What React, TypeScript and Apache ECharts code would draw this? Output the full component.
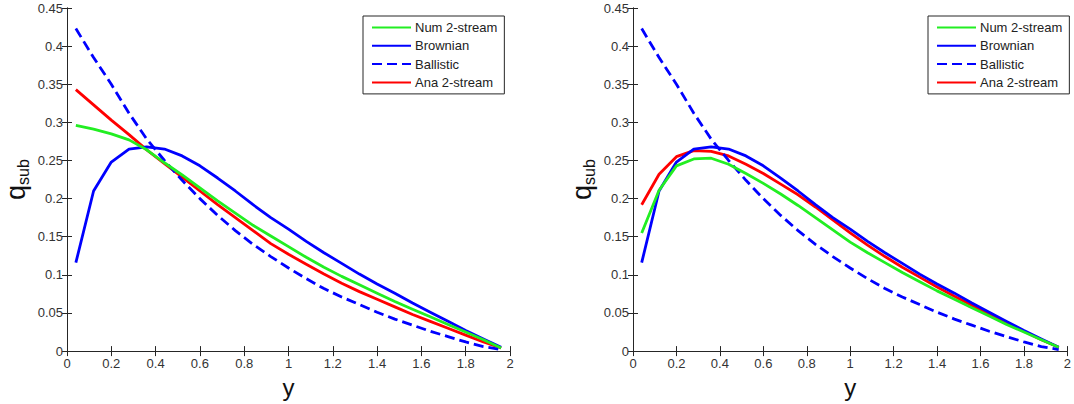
import React, { useEffect, useRef } from "react";
import * as echarts from "echarts";

// Sample positions along y
const xs = [0.04, 0.12, 0.2, 0.28, 0.36, 0.44, 0.52, 0.6, 0.68, 0.76, 0.84, 0.92, 1.0, 1.08, 1.16, 1.24, 1.32, 1.4, 1.48, 1.56, 1.64, 1.72, 1.8, 1.88, 1.96];

// Shared curves (same in both panels)
const brownian = [0.116, 0.21, 0.248, 0.265, 0.268, 0.265, 0.256, 0.243, 0.227, 0.21, 0.192, 0.175, 0.16, 0.144, 0.129, 0.115, 0.101, 0.088, 0.076, 0.063, 0.051, 0.039, 0.027, 0.016, 0.005];
const ballistic = [0.423, 0.385, 0.35, 0.312, 0.278, 0.25, 0.224, 0.2, 0.178, 0.158, 0.14, 0.124, 0.109, 0.095, 0.082, 0.071, 0.061, 0.051, 0.042, 0.034, 0.026, 0.019, 0.012, 0.006, 0.002];

// Left panel
const numLeft = [0.296, 0.291, 0.285, 0.277, 0.264, 0.247, 0.231, 0.214, 0.197, 0.181, 0.165, 0.151, 0.137, 0.123, 0.11, 0.098, 0.087, 0.076, 0.065, 0.055, 0.045, 0.035, 0.025, 0.015, 0.004];
const anaLeft = [0.343, 0.323, 0.303, 0.284, 0.264, 0.246, 0.228, 0.21, 0.192, 0.175, 0.158, 0.141, 0.127, 0.114, 0.101, 0.089, 0.078, 0.068, 0.058, 0.048, 0.039, 0.03, 0.021, 0.012, 0.004];

// Right panel
const numRight = [0.155, 0.211, 0.243, 0.252, 0.253, 0.245, 0.233, 0.22, 0.206, 0.191, 0.175, 0.159, 0.143, 0.129, 0.116, 0.103, 0.091, 0.079, 0.068, 0.057, 0.046, 0.035, 0.025, 0.015, 0.005];
const anaRight = [0.192, 0.232, 0.255, 0.263, 0.262, 0.256, 0.245, 0.233, 0.219, 0.205, 0.189, 0.172, 0.155, 0.139, 0.124, 0.11, 0.097, 0.084, 0.072, 0.06, 0.048, 0.037, 0.026, 0.015, 0.005];

const seriesNames = ["Num 2-stream", "Brownian", "Ballistic", "Ana 2-stream"];
const xLabel = "y";

const FONT = "Liberation Sans, Arial, Helvetica, sans-serif";
const AX = "#262626";
const GREEN = "#22ee22";
const BLUE = "#0000ff";
const RED = "#ff0000";

const pairs = (vals: number[]) => xs.map((x, i) => [x, vals[i]]);

export default function App() {
  const ref = useRef<HTMLDivElement>(null);
  useEffect(() => {
    const chart = echarts.init(ref.current!, undefined, { renderer: "svg" });
    const grids = [
      { left: 67, top: 8, width: 443, height: 346 },
      { left: 633, top: 8, width: 443, height: 346 },
    ];
    const xAxes: any[] = [];
    const yAxes: any[] = [];
    grids.forEach((_, g) => {
      xAxes.push({
        type: "value", gridIndex: g, min: 0, max: 2, interval: 0.2, position: "bottom",
        name: xLabel, nameLocation: "middle", nameGap: 17,
        nameTextStyle: { fontFamily: FONT, fontSize: 24, color: "#111" },
        axisLine: { show: true, lineStyle: { color: AX, width: 1 } },
        axisTick: { show: true, inside: true, length: 5, lineStyle: { color: AX } },
        axisLabel: { fontFamily: FONT, fontSize: 13, color: "#333", margin: 6 },
        splitLine: { show: false },
      });
      xAxes.push({
        type: "value", gridIndex: g, min: 0, max: 2, interval: 0.2, position: "top",
        axisLine: { show: true, lineStyle: { color: AX, width: 1 } },
        axisTick: { show: true, inside: true, length: 5, lineStyle: { color: AX } },
        axisLabel: { show: false },
        splitLine: { show: false },
      });
      yAxes.push({
        type: "value", gridIndex: g, min: 0, max: 0.45, interval: 0.05, position: "left",
        name: "{q|q}{s|sub}", nameLocation: "middle", nameGap: 36, nameRotate: 90,
        nameTextStyle: {
          fontFamily: FONT, color: "#111",
          rich: {
            q: { fontFamily: FONT, fontSize: 27, color: "#111", lineHeight: 30 },
            s: { fontFamily: FONT, fontSize: 16, color: "#111", verticalAlign: "bottom", lineHeight: 30, padding: [12, 0, 0, 0] },
          },
        },
        axisLine: { show: true, lineStyle: { color: AX, width: 1 } },
        axisTick: { show: true, inside: true, length: 5, lineStyle: { color: AX } },
        axisLabel: { fontFamily: FONT, fontSize: 13, color: "#333", margin: 4 },
        splitLine: { show: false },
      });
      yAxes.push({
        type: "value", gridIndex: g, min: 0, max: 0.45, interval: 0.05, position: "right",
        axisLine: { show: true, lineStyle: { color: AX, width: 1 } },
        axisTick: { show: true, inside: true, length: 5, lineStyle: { color: AX } },
        axisLabel: { show: false },
        splitLine: { show: false },
      });
    });

    const panelData = [
      [numLeft, brownian, ballistic, anaLeft],
      [numRight, brownian, ballistic, anaRight],
    ];
    const colors = [GREEN, BLUE, BLUE, RED];
    const series: any[] = [];
    panelData.forEach((arrs, g) => {
      arrs.forEach((vals, k) => {
        series.push({
          type: "line",
          name: seriesNames[k],
          xAxisIndex: g * 2,
          yAxisIndex: g * 2,
          data: pairs(vals),
          symbol: "none",
          smooth: false,
          z: 10 - k,
          lineStyle: { color: colors[k], width: 2.8, type: k === 2 ? [10, 5] : "solid" },
          itemStyle: { color: colors[k] },
        });
      });
    });

    const legendBase = {
      orient: "vertical",
      top: 16,
      data: seriesNames,
      itemWidth: 39,
      itemHeight: 14,
      itemGap: 5.3,
      padding: [5, 7, 5, 8],
      borderColor: "#262626",
      borderWidth: 1,
      backgroundColor: "#fff",
      itemStyle: { opacity: 0 },
      textStyle: { fontFamily: FONT, fontSize: 13, color: "#222", padding: [0, 0, 0, -1] },
      selectedMode: false,
    };

    chart.setOption({
      animation: false,
      backgroundColor: "#fff",
      grid: grids,
      xAxis: xAxes,
      yAxis: yAxes,
      legend: [
        { ...legendBase, left: 363 },
        { ...legendBase, left: 928 },
      ],
      series,
    });
    return () => chart.dispose();
  }, []);
  return (
    <div
      ref={ref}
      style={{ position: "fixed", left: 0, top: 0, width: 1074, height: 404, background: "#fff" }}
    />
  );
}
